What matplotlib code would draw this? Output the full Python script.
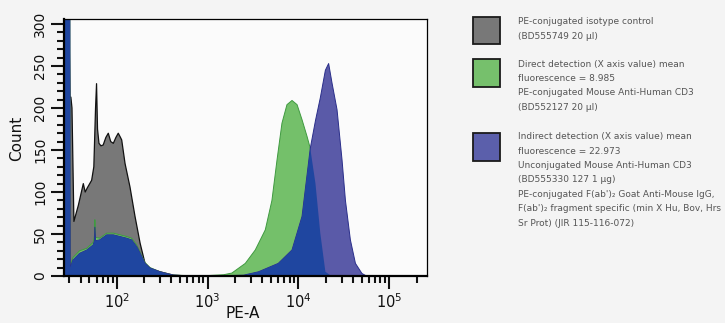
import matplotlib.pyplot as plt
from matplotlib.ticker import LogLocator, MultipleLocator, NullFormatter
from matplotlib.patches import Rectangle

# isotype control (gray)
iso_x = [26, 29, 30.6, 31.3, 32.2, 33.8, 37.8, 42.9, 45, 47.5, 53, 56, 58.5, 60, 61.5,
         63.8, 67, 71, 76, 80.8, 86, 91.8, 98, 104, 110, 113.5, 123.5, 140, 159, 181,
         205, 233, 300, 421, 600]
iso_y = [400, 400, 213, 213, 200, 65, 84, 110, 100, 105, 114, 130, 200, 229, 175,
         158, 155, 156, 165, 170, 160, 158, 165, 170, 165, 162, 134, 106, 71, 39,
         15, 9, 5, 1, 0]

# direct detection (green)
dir_x = [26, 30, 30.8, 33, 39, 47, 55, 57, 57.5, 58.5, 65, 77.6, 92, 109, 129, 146,
         166, 189, 205, 233, 300, 421, 600, 1000, 1500, 1850, 2600, 3350, 4320, 5110,
         5810, 6590, 7480, 8500, 9660, 10960, 12450, 13500, 15400, 17400, 19800, 23000]
dir_y = [900, 900, 12, 22, 30, 33, 40, 48, 67, 46, 45, 51, 51, 49, 47, 45,
         37, 24, 16, 10, 5, 1, 0.5, 0.5, 1.5, 3.5, 15, 31, 55, 90,
         138, 182, 204, 209, 204, 186, 166, 152, 110, 51, 5, 0]

# indirect detection (purple)
ind_x = [26, 30, 30.8, 33, 39, 47, 55, 57, 57.5, 58.5, 65, 77.6, 92, 109, 129, 146,
         166, 189, 205, 233, 300, 421, 600, 1500, 2500, 3630, 6000, 8500, 10960, 13500,
         15400, 17400, 19800, 21500, 23400, 26600, 30200, 32900, 37300, 42400, 50000, 56000]
ind_y = [900, 900, 10, 19, 27, 31, 37, 42, 58, 42, 43, 49, 49, 47, 45, 43,
         35, 23, 15, 9.5, 5, 1, 0.3, 0.3, 1, 5, 15, 31, 71, 152,
         185, 212, 245, 253, 230, 198, 138, 90, 43, 15, 3, 0]

legend_colors = ['#787878', '#76c06c', '#5b5fab']
legend_lines = [
    ['PE-conjugated isotype control', '(BD555749 20 µl)'],
    ['Direct detection (X axis value) mean', 'fluorescence = 8.985',
     'PE-conjugated Mouse Anti-Human CD3', '(BD552127 20 µl)'],
    ['Indirect detection (X axis value) mean', 'fluorescence = 22.973',
     'Unconjugated Mouse Anti-Human CD3', '(BD555330 127 1 µg)',
     "PE-conjugated F(ab')₂ Goat Anti-Mouse IgG,",
     "F(ab')₂ fragment specific (min X Hu, Bov, Hrs",
     'Sr Prot) (JIR 115-116-072)'],
]

W, H = 725, 323
fig = plt.figure(figsize=(W / 100, H / 100), dpi=100, facecolor='#f4f4f4')
ax = fig.add_axes([64 / W, 1 - 276 / H, 363 / W, 257 / H])
ax.set_facecolor('#fbfbfb')

ax.fill_between(iso_x, iso_y, color='#787878', edgecolor='#111111', lw=0.9, zorder=2)
ax.fill_between(dir_x, dir_y, color='#74c06a', edgecolor='#3f9a40', lw=0.7, zorder=3)
green = ax.fill_between(dir_x, dir_y, color='none', lw=0)
ax.fill_between(ind_x, ind_y, color='#5a5aa8', edgecolor='#2a2e8a', lw=0.7, zorder=4)
overlap = ax.fill_between(ind_x, ind_y, color='#1f46a0', lw=0, zorder=5)
overlap.set_clip_path(green.get_paths()[0], ax.transData)

ax.set_xscale('log')
ax.set_xlim(26.3, 2.6e5)
ax.set_ylim(0, 306)
ax.xaxis.set_major_locator(LogLocator(base=10, numticks=10))
ax.xaxis.set_minor_locator(LogLocator(base=10, subs=range(2, 10), numticks=20))
ax.xaxis.set_minor_formatter(NullFormatter())
ax.yaxis.set_major_locator(MultipleLocator(50))
ax.yaxis.set_minor_locator(MultipleLocator(10))

for s in ['left', 'bottom']:
    ax.spines[s].set_linewidth(1.6)
for s in ['top', 'right']:
    ax.spines[s].set_linewidth(0.9)
ax.spines[:].set_zorder(6)

ax.tick_params(which='major', length=9.5, width=1.5, labelsize=10.5, colors='#111111')
ax.tick_params(which='minor', length=5, width=1.5, colors='#111111')
ax.tick_params(axis='x', which='major', pad=2)
ax.tick_params(axis='y', which='major', pad=2.5, labelsize=10)
for lab in ax.get_yticklabels():
    lab.set_rotation(90)
    lab.set_va('center')

fig.text(17 / W, 1 - 138 / H, 'Count', rotation=90, ha='center', va='center',
         fontsize=11, color='#111111')
fig.text(243 / W, 1 - 314 / H, 'PE-A', ha='center', va='center',
         fontsize=11, color='#111111')

# legend on the right
first_y = [21.7, 64, 136.7]
box_top = [16.7, 59.3, 133.3]
for col, lines, fy, bt in zip(legend_colors, legend_lines, first_y, box_top):
    fig.patches.append(Rectangle((472.5 / W, 1 - (bt + 27.5) / H), 27.5 / W, 27.5 / H,
                                 transform=fig.transFigure, facecolor=col,
                                 edgecolor='#1a1a1a', lw=1.3))
    for i, t in enumerate(lines):
        fig.text(518 / W, 1 - (fy + i * 14.4) / H, t, ha='left', va='center',
                 fontsize=6.5, color='#555555')

fig.savefig('out.png', dpi=100, facecolor=fig.get_facecolor())
